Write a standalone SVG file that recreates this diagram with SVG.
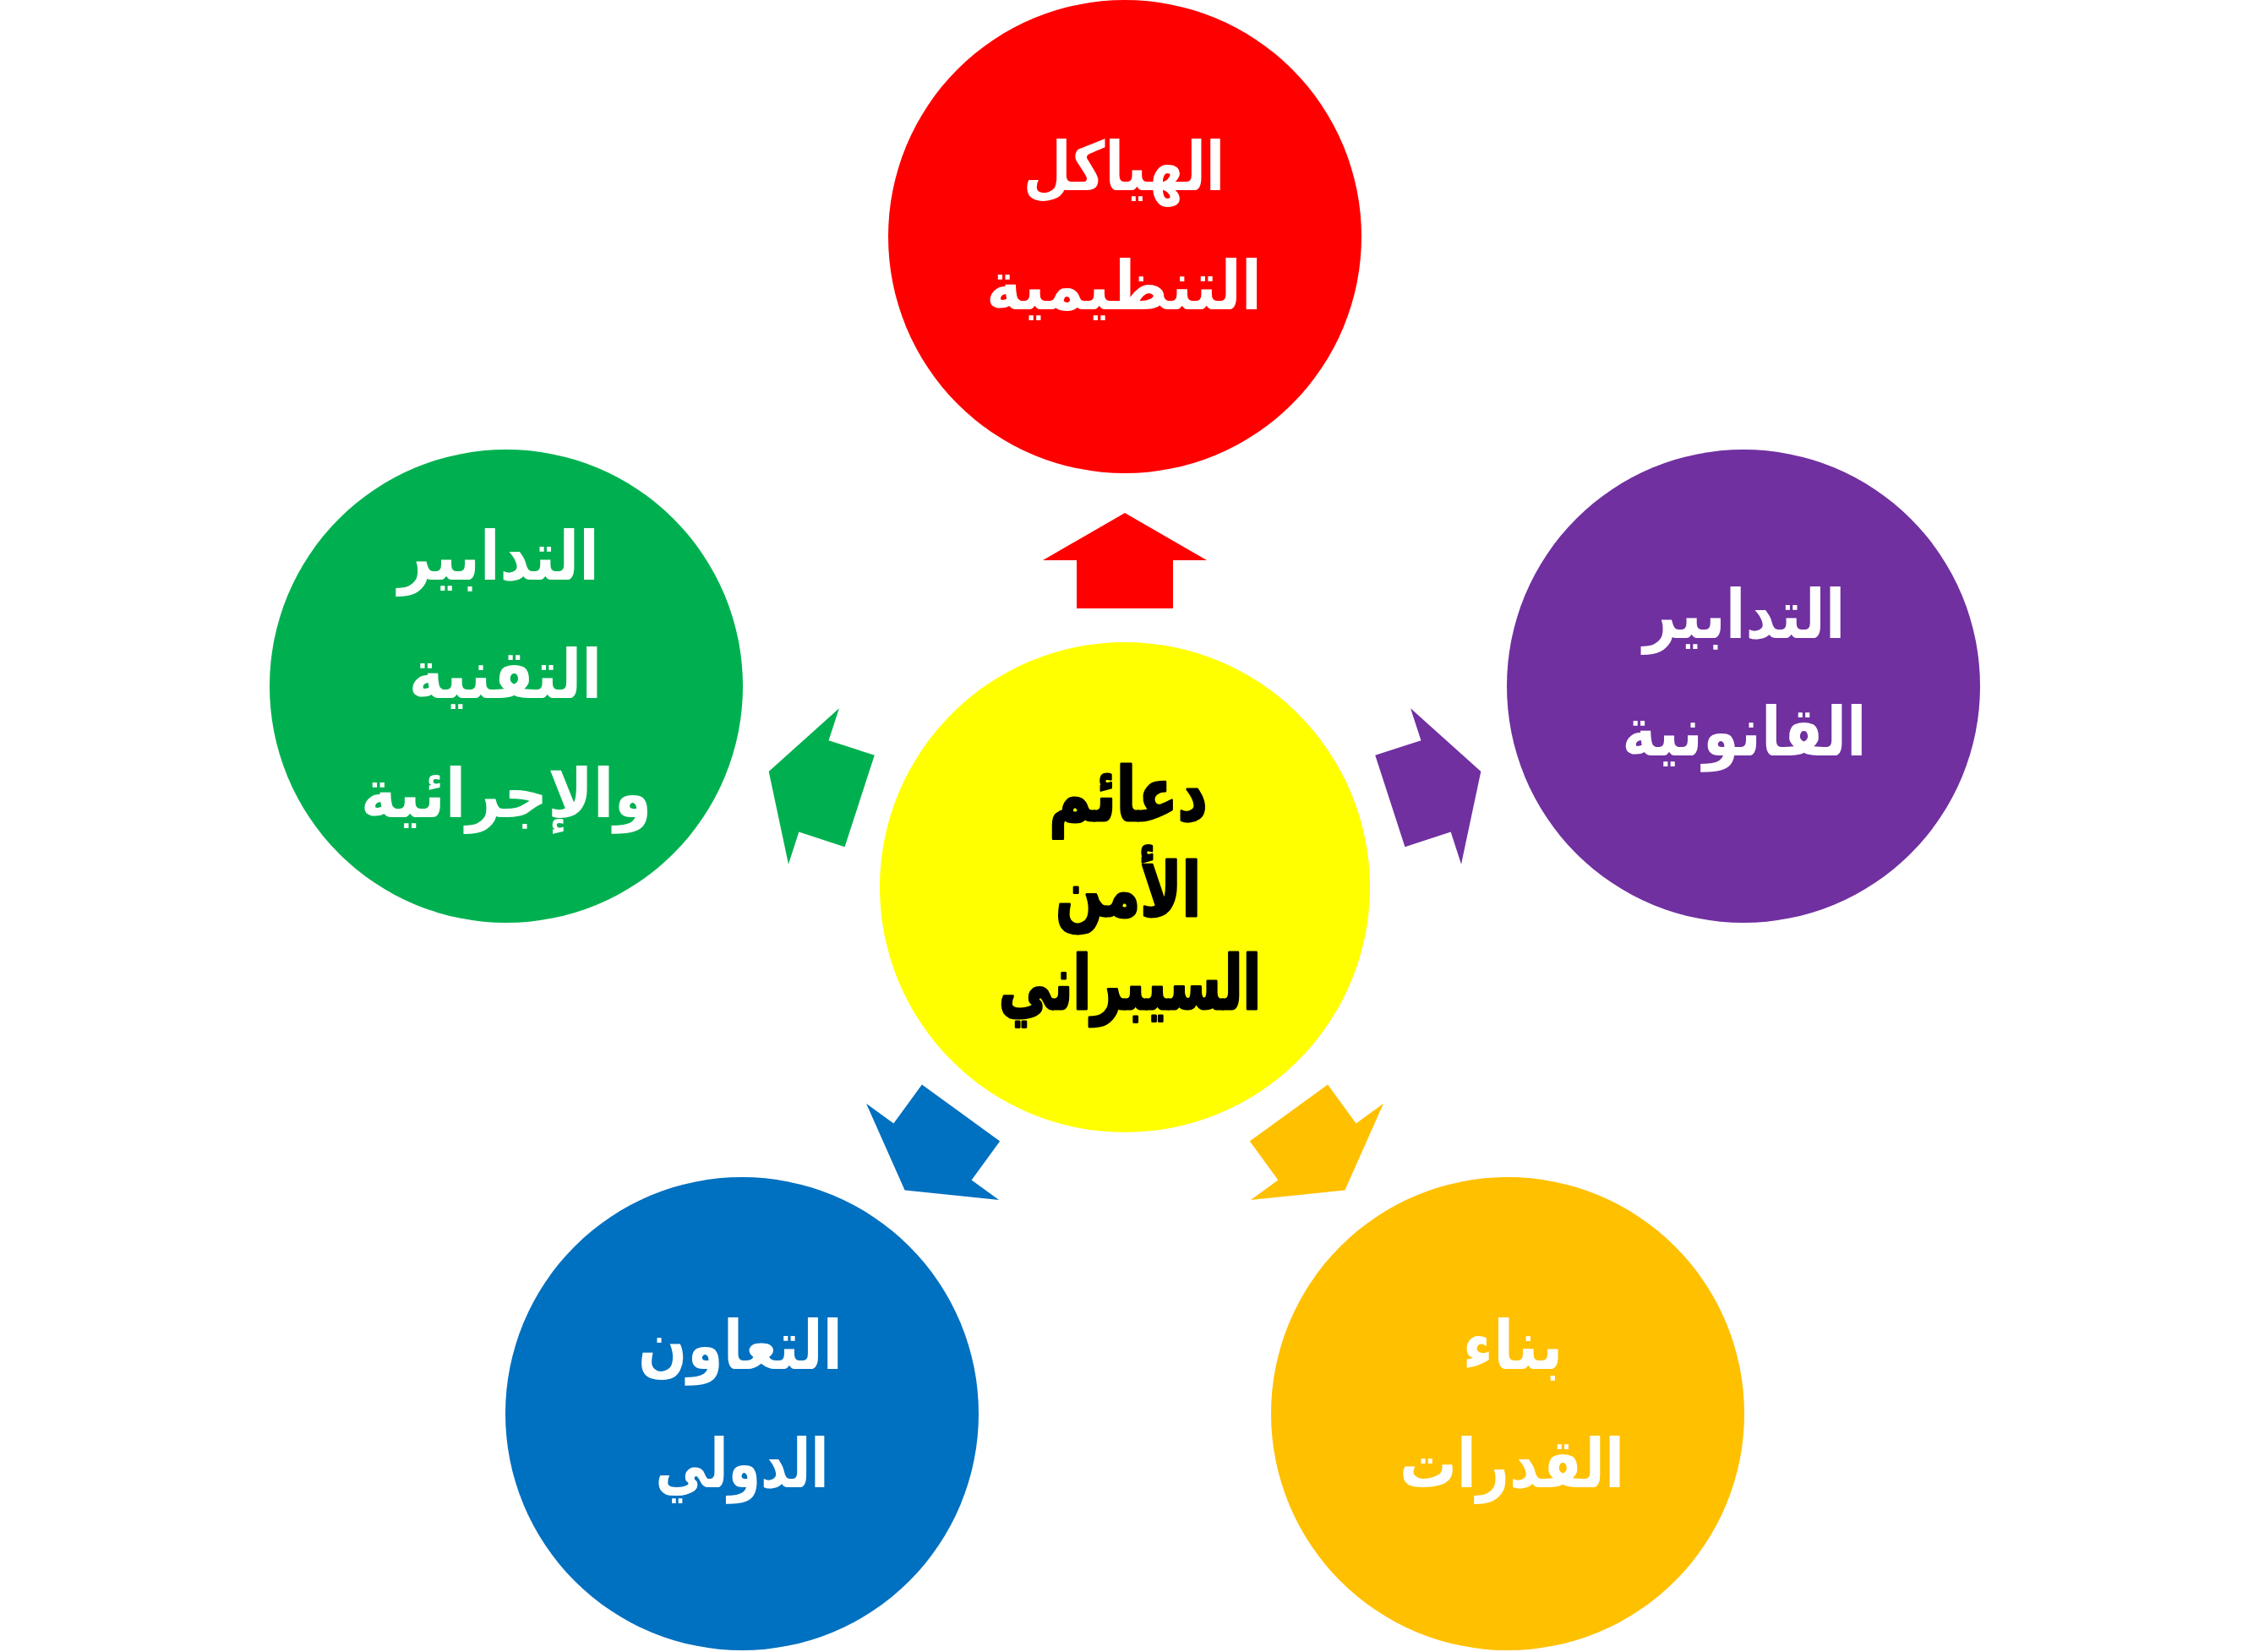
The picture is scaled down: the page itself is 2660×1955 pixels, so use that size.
<svg xmlns="http://www.w3.org/2000/svg" xmlns:xlink="http://www.w3.org/1999/xlink" width="2660" height="1955" viewBox="0 0 2660 1955">
<style>
.lbl{font-family:"DejaVu Sans","Noto Sans",sans-serif;font-weight:bold;font-size:80px;fill:#FFFFFF;text-anchor:middle}
.ctr{font-family:"DejaVu Sans","Noto Sans",sans-serif;font-weight:bold;font-size:88px;fill:#000000;stroke:#000000;stroke-width:3;stroke-linejoin:round;text-anchor:middle}
</style>
<defs>
<polygon id="arrow" points="-57,-330 -57,-387 -97,-387 0,-443 97,-387 57,-387 57,-330"/>
</defs>
<rect width="2660" height="1955" fill="#FFFFFF"/>
<g id="connectors">
<use xlink:href="#arrow" href="#arrow" transform="translate(1331,1050) rotate(0)" fill="#FF0000"/>
<use xlink:href="#arrow" href="#arrow" transform="translate(1331,1050) rotate(72)" fill="#7030A0"/>
<use xlink:href="#arrow" href="#arrow" transform="translate(1331,1050) rotate(144)" fill="#FFC000"/>
<use xlink:href="#arrow" href="#arrow" transform="translate(1331,1050) rotate(216)" fill="#0070C0"/>
<use xlink:href="#arrow" href="#arrow" transform="translate(1331,1050) rotate(288)" fill="#00B050"/>
</g>
<g id="node-center">
<circle cx="1331" cy="1050" r="290" fill="#FFFF00"/>
<text class="ctr" x="0" y="971" transform="translate(1335,0) scale(0.78,1)">دعائم</text>
<text class="ctr" x="0" y="1084" transform="translate(1335,0) scale(0.75,1)">الأمن</text>
<text class="ctr" x="0" y="1194" transform="translate(1337,0) scale(0.72,1)">السيبراني</text>
</g>
<g id="node-structures">
<circle cx="1331" cy="280" r="280" fill="#FF0000"/>
<text class="lbl" x="0" y="225" transform="translate(1330,0) scale(0.82,1)">الهياكل</text>
<text class="lbl" x="0" y="366" transform="translate(1330,0) scale(0.886,1)">التنظيمية</text>
</g>
<g id="node-legal">
<circle cx="2063" cy="812" r="280" fill="#7030A0"/>
<text class="lbl" x="0" y="755" transform="translate(2064,0) scale(0.866,1)">التدابير</text>
<text class="lbl" x="0" y="894" transform="translate(2064,0) scale(0.86,1)">القانونية</text>
</g>
<g id="node-capacity">
<circle cx="1784" cy="1673" r="280" fill="#FFC000"/>
<text class="lbl" x="0" y="1620" transform="translate(1790,0) scale(0.89,1)">بناء</text>
<text class="lbl" x="0" y="1760" transform="translate(1789,0) scale(0.845,1)">القدرات</text>
</g>
<g id="node-cooperation">
<circle cx="878" cy="1673" r="280" fill="#0070C0"/>
<text class="lbl" x="0" y="1620" transform="translate(876,0) scale(0.854,1)">التعاون</text>
<text class="lbl" x="0" y="1760" transform="translate(878,0) scale(0.775,1)">الدولي</text>
</g>
<g id="node-technical">
<circle cx="599" cy="812" r="280" fill="#00B050"/>
<text class="lbl" x="0" y="686" transform="translate(590,0) scale(0.86,1)">التدابير</text>
<text class="lbl" x="0" y="826" transform="translate(598,0) scale(0.873,1)">التقنية</text>
<text class="lbl" x="0" y="967" transform="translate(599,0) scale(0.9,1)">والإجرائية</text>
</g>
</svg>
